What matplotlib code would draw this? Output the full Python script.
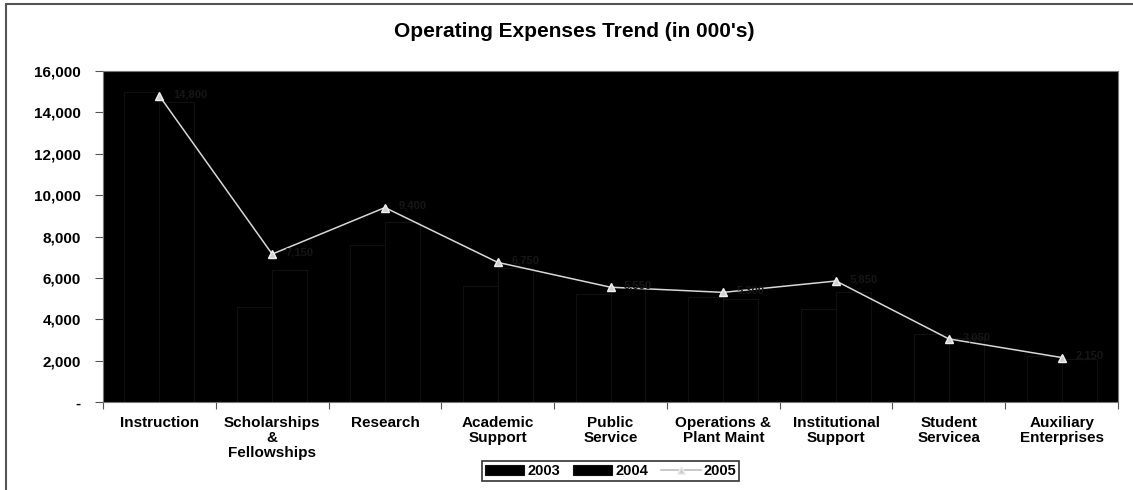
import matplotlib.pyplot as plt
import numpy as np

plt.rcParams['font.family'] = ['Liberation Sans', 'DejaVu Sans']

# data (in 000's)
categories = ['Instruction', 'Scholarships\n&\nFellowships', 'Research', 'Academic\nSupport',
              'Public\nService', 'Operations &\nPlant Maint', 'Institutional\nSupport',
              'Student\nServicea', 'Auxiliary\nEnterprises']
exp_2003 = [15000, 4600, 7600, 5600, 5200, 5100, 4500, 3300, 2200]
exp_2004 = [14500, 6400, 8700, 6500, 5500, 5000, 5300, 3100, 2100]
exp_2005 = [14800, 7150, 9400, 6750, 5550, 5300, 5850, 3050, 2150]
yticks = [0, 2000, 4000, 6000, 8000, 10000, 12000, 14000, 16000]
ytick_labels = ['-', '2,000', '4,000', '6,000', '8,000', '10,000', '12,000', '14,000', '16,000']

fig = plt.figure(figsize=(11.33, 4.9), dpi=100)
ax = fig.add_axes([0.0909, 0.1796, 0.8959, 0.6754])
ax.set_facecolor('black')

x = np.arange(len(categories))
w = 0.31
b1 = ax.bar(x - w / 2, exp_2003, w, color='black', edgecolor='#101010', linewidth=0.8, label='2003')
b2 = ax.bar(x + w / 2, exp_2004, w, color='black', edgecolor='#101010', linewidth=0.8, label='2004')
l3, = ax.plot(x, exp_2005, color='#d8d8d8', linewidth=1.1, marker='^', markersize=5.5,
              markerfacecolor='#d0d0d0', markeredgecolor='#f0f0f0', label='2005')

# faint data labels
for xi, v in zip(x, exp_2005):
    ax.text(xi + 0.12, v + 80, '{:,}'.format(v), color='#161616', fontsize=8,
            fontweight='bold', va='center', ha='left')

ax.set_xlim(-0.5, len(categories) - 0.5)
ax.set_ylim(0, 16000)
ax.set_yticks(yticks)
ax.set_yticklabels(ytick_labels, fontsize=11, fontweight='bold')
ax.set_xticks(np.arange(-0.5, len(categories), 1), minor=False)
ax.set_xticklabels([])
ax.set_xticks(x, minor=True)
ax.set_xticklabels(categories, minor=True, fontsize=11, fontweight='bold', linespacing=1.1)
ax.tick_params(axis='x', which='minor', length=0, pad=10)
ax.tick_params(axis='x', which='major', length=5, direction='out', color='#555555')
ax.tick_params(axis='y', length=6, direction='out', color='#555555', pad=10)
for s in ax.spines.values():
    s.set_color('#777777')

fig.text(0.507, 0.935, "Operating Expenses Trend (in 000's)", ha='center', va='center',
         fontsize=15, fontweight='bold')

leg = fig.legend([b1, b2, l3], ['2003', '2004', '2005'], loc='center',
                 bbox_to_anchor=(0.539, 0.039), ncol=3, frameon=True,
                 fancybox=False, edgecolor='black', prop={'weight': 'bold', 'size': 10.5},
                 handlelength=2.7, handletextpad=0.2, columnspacing=0.9, borderpad=0.2)
leg.get_frame().set_linewidth(1.2)
leg.legend_handles[2].set_color('#bbbbbb')

# outer chart border (left and top visible)
fig.add_artist(plt.Rectangle((0.0053, -0.05), 1.1, 1.042, transform=fig.transFigure,
                             fill=False, edgecolor='#555555', linewidth=1.5))

fig.savefig('out.png', dpi=100)
